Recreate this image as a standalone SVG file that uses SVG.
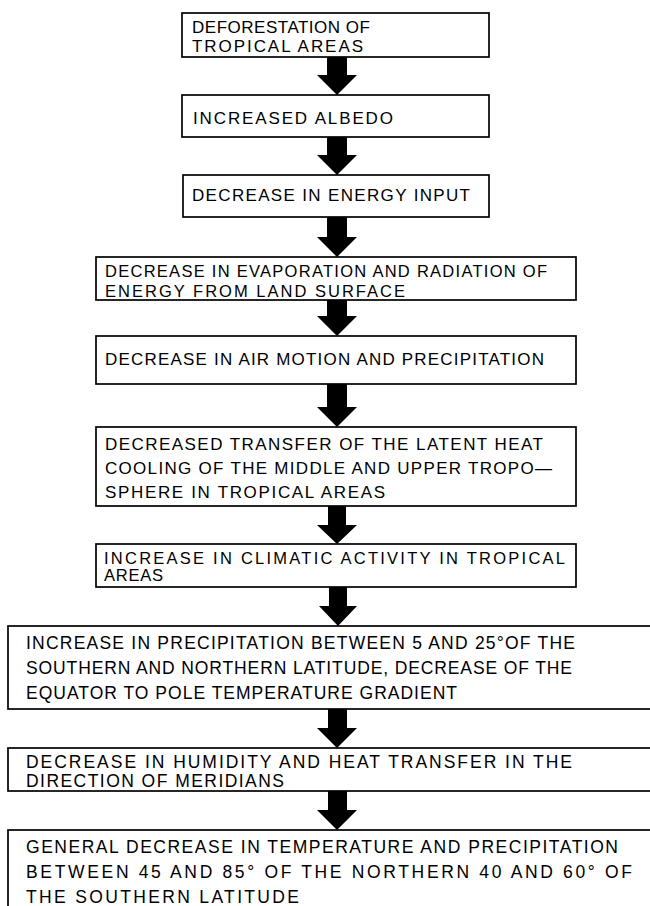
<svg xmlns="http://www.w3.org/2000/svg" width="650" height="906" viewBox="0 0 650 906">
<style>
.box{fill:#fff;stroke:#000;stroke-width:1.7}
.t{font-family:"Liberation Sans",Arial,sans-serif;font-size:17px;fill:#000}
.ts{font-family:"Liberation Sans",Arial,sans-serif;font-size:16.5px;fill:#000}
.t2{font-family:"Liberation Sans",Arial,sans-serif;font-size:17.5px;fill:#000}
.arr{fill:#000;stroke:none}
</style>
<rect width="650" height="906" fill="#fff"/>
<g id="connectors">
<polygon class="arr" points="327,57 347,57 347,75 357,75 337,95 317,75 327,75"/>
<polygon class="arr" points="327,137 347,137 347,155 357,155 337,175 317,155 327,155"/>
<polygon class="arr" points="327,217 347,217 347,237 357,237 337,257 317,237 327,237"/>
<polygon class="arr" points="327,300 347,300 347,316 357,316 337,336 317,316 327,316"/>
<polygon class="arr" points="327,384 347,384 347,407 357,407 337,427 317,407 327,407"/>
<polygon class="arr" points="328,506 346,506 346,525 357,525 337,544 317,525 328,525"/>
<polygon class="arr" points="329,587 347,587 347,606 357,606 338,626 319,606 329,606"/>
<polygon class="arr" points="328,709 347,709 347,728 357,728 337,748 317,728 328,728"/>
<polygon class="arr" points="328,791 347,791 347,810 357,810 337,830 317,810 328,810"/>
</g>
<g id="n1">
<rect class="box" x="182" y="13" width="307" height="44"/>
<text class="t" x="192" y="33" textLength="178" lengthAdjust="spacing">DEFORESTATION OF</text>
<text class="t" x="192" y="52" textLength="171" lengthAdjust="spacing">TROPICAL AREAS</text>
</g>
<g id="n2">
<rect class="box" x="182" y="95" width="307" height="42"/>
<text class="t" x="193" y="124" textLength="200" lengthAdjust="spacing">INCREASED ALBEDO</text>
</g>
<g id="n3">
<rect class="box" x="183" y="175" width="306" height="42"/>
<text class="t" x="192" y="201" textLength="278" lengthAdjust="spacing">DECREASE IN ENERGY INPUT</text>
</g>
<g id="n4">
<rect class="box" x="96" y="257" width="480" height="43"/>
<text class="ts" x="105" y="277" textLength="442" lengthAdjust="spacing">DECREASE IN EVAPORATION AND RADIATION OF</text>
<text class="ts" x="105" y="297" textLength="300" lengthAdjust="spacing">ENERGY FROM LAND SURFACE</text>
</g>
<g id="n5">
<rect class="box" x="96" y="336" width="480" height="48"/>
<text class="t" x="105" y="365" textLength="439" lengthAdjust="spacing">DECREASE IN AIR MOTION AND PRECIPITATION</text>
</g>
<g id="n6">
<rect class="box" x="96" y="427" width="480" height="79"/>
<text class="t" x="105" y="450" textLength="438" lengthAdjust="spacing">DECREASED TRANSFER OF THE LATENT HEAT</text>
<text class="t" x="105" y="474" textLength="447" lengthAdjust="spacing">COOLING OF THE MIDDLE AND UPPER TROPO—</text>
<text class="t" x="105" y="498" textLength="280" lengthAdjust="spacing">SPHERE IN TROPICAL AREAS</text>
</g>
<g id="n7">
<rect class="box" x="96" y="544" width="480" height="43"/>
<text class="ts" x="104" y="564" textLength="461" lengthAdjust="spacing">INCREASE IN CLIMATIC ACTIVITY IN TROPICAL</text>
<text class="ts" x="104" y="581" textLength="59" lengthAdjust="spacing">AREAS</text>
</g>
<g id="n8">
<rect class="box" x="8" y="626" width="660" height="83"/>
<text class="t2" x="26" y="649" textLength="549" lengthAdjust="spacing">INCREASE IN PRECIPITATION BETWEEN 5 AND 25°OF THE</text>
<text class="t2" x="26" y="674" textLength="546" lengthAdjust="spacing">SOUTHERN AND NORTHERN LATITUDE, DECREASE OF THE</text>
<text class="t2" x="26" y="699" textLength="431" lengthAdjust="spacing">EQUATOR TO POLE TEMPERATURE GRADIENT</text>
</g>
<g id="n9">
<rect class="box" x="8" y="748" width="660" height="43"/>
<text class="t2" x="26" y="768" textLength="546" lengthAdjust="spacing">DECREASE IN HUMIDITY AND HEAT TRANSFER IN THE</text>
<text class="t2" x="26" y="787" textLength="258" lengthAdjust="spacing">DIRECTION OF MERIDIANS</text>
</g>
<g id="n10">
<rect class="box" x="8" y="830" width="660" height="100"/>
<text class="t2" x="26" y="853" textLength="592" lengthAdjust="spacing">GENERAL DECREASE IN TEMPERATURE AND PRECIPITATION</text>
<text class="t2" x="26" y="878" textLength="606" lengthAdjust="spacing">BETWEEN 45 AND 85° OF THE NORTHERN 40 AND 60° OF</text>
<text class="t2" x="26" y="903" textLength="273" lengthAdjust="spacing">THE SOUTHERN LATITUDE</text>
</g>
</svg>
